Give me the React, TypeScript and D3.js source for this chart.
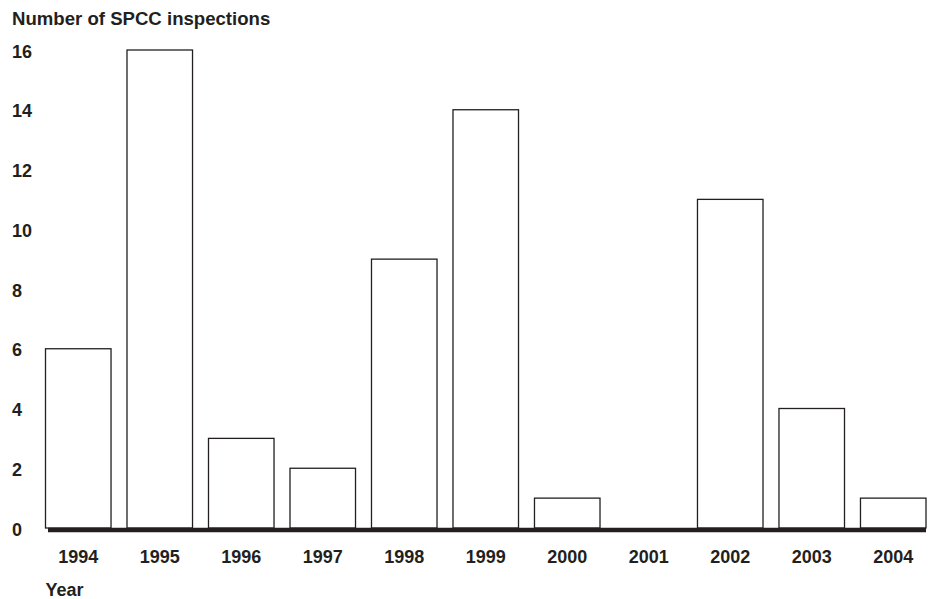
import React from "react";
import * as d3 from "d3";

const years = ["1994", "1995", "1996", "1997", "1998", "1999", "2000", "2001", "2002", "2003", "2004"];
const inspections = [6, 16, 3, 2, 9, 14, 1, 0, 11, 4, 1];
const yTicks = [0, 2, 4, 6, 8, 10, 12, 14, 16];
const yTitle = "Number of SPCC inspections";
const xTitle = "Year";

const W = 931;
const H = 599;
const FONT = "'Liberation Sans', Arial, Helvetica, sans-serif";
const INK = "#231f20";

export default function App() {
  const x = d3.scaleBand<string>().domain(years).range([45.5, 926]).paddingInner(0.196).paddingOuter(0);
  const y = d3.scaleLinear().domain([0, 16]).range([528, 50]);

  return (
    <svg width={W} height={H} style={{ position: "absolute", left: 0, top: 0, background: "#fff" }}>
      <text x={12} y={25} fontFamily={FONT} fontWeight="bold" fontSize={18.6} fill={INK}>
        {yTitle}
      </text>
      {yTicks.map((t) => (
        <text key={t} x={12} y={y(t) + 7.5} fontFamily={FONT} fontWeight="bold" fontSize={18} fill={INK}>
          {t}
        </text>
      ))}
      {years.map((yr, i) =>
        inspections[i] > 0 ? (
          <rect
            key={yr}
            x={x(yr)}
            y={y(inspections[i])}
            width={x.bandwidth()}
            height={y(0) - y(inspections[i])}
            fill="#fff"
            stroke={INK}
            strokeWidth={1.3}
          />
        ) : null
      )}
      <line x1={48} x2={926} y1={530} y2={530} stroke={INK} strokeWidth={4.6} />
      {years.map((yr) => (
        <text
          key={"l" + yr}
          x={(x(yr) as number) + x.bandwidth() / 2}
          y={563}
          textAnchor="middle"
          fontFamily={FONT}
          fontWeight="bold"
          fontSize={18}
          fill={INK}
        >
          {yr}
        </text>
      ))}
      <text x={45.5} y={596} fontFamily={FONT} fontWeight="bold" fontSize={18} fill={INK}>
        {xTitle}
      </text>
    </svg>
  );
}
